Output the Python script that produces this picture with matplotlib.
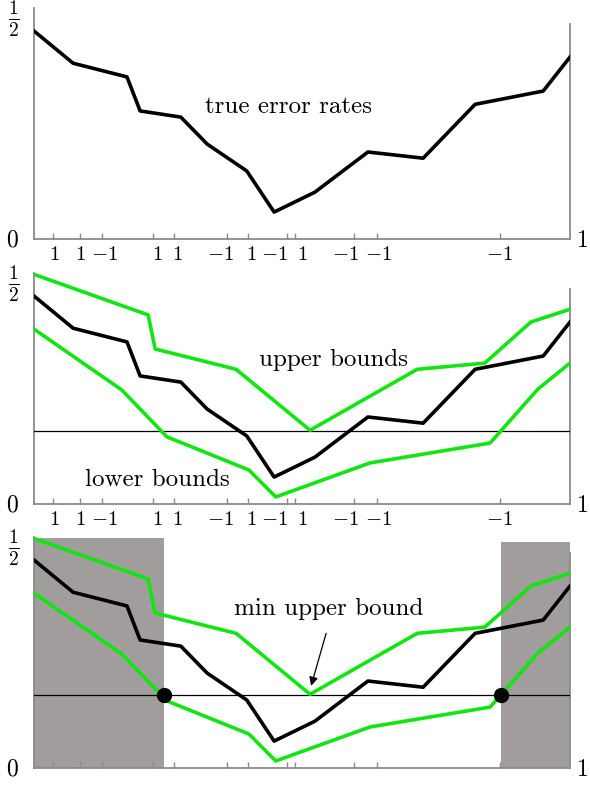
import matplotlib
matplotlib.use("Agg")
import matplotlib.pyplot as plt

plt.rcParams["font.family"] = ["cmr10", "DejaVu Serif"]
plt.rcParams["mathtext.fontset"] = "cm"
plt.rcParams["axes.formatter.use_mathtext"] = True

# true error rates (black)
err_x = [0.0, 0.073, 0.1735, 0.198, 0.274, 0.323, 0.397, 0.448, 0.524, 0.623, 0.726, 0.823, 0.950, 1.0]
err_y = [0.471, 0.398, 0.367, 0.290, 0.276, 0.215, 0.154, 0.061, 0.106, 0.197, 0.183, 0.305, 0.335, 0.412]

# upper bounds (green)
up_x = [0.0, 0.213, 0.226, 0.377, 0.515, 0.715, 0.841, 0.927, 1.0]
up_y = [0.520, 0.428, 0.351, 0.305, 0.167, 0.305, 0.319, 0.412, 0.441]

# lower bounds (green)
lo_x = [0.0, 0.164, 0.248, 0.401, 0.451, 0.627, 0.851, 0.940, 1.0]
lo_y = [0.396, 0.258, 0.152, 0.077, 0.016, 0.093, 0.138, 0.260, 0.319]

threshold = 0.166
cut_left = 0.243
cut_right = 0.871

# tick marks and the labels under them (labels nudged apart where crowded)
tick_pos = [0.0354, 0.0858, 0.1269, 0.222, 0.261, 0.360, 0.399, 0.472, 0.487, 0.597, 0.640, 0.869]
label_pos = [0.0373, 0.0868, 0.1306, 0.2295, 0.2668, 0.347, 0.405, 0.449, 0.500, 0.582, 0.642, 0.869]
tick_lab = ["$1$", "$1$", "$-1$", "$1$", "$1$", "$-1$", "$1$", "$-1$", "$1$", "$-1$", "$-1$", "$-1$"]

green = "#11e611"
spine_col = "#8a8a8a"

fig = plt.figure(figsize=(5.9, 7.87), dpi=100)
bottoms = [0.6963, 0.3596, 0.0241]
axes = [fig.add_axes([0.0576, b, 0.9085, 0.2935]) for b in bottoms]

for i, ax in enumerate(axes):
    ax.set_xlim(0, 1)
    ax.set_ylim(0, 0.523)
    ax.spines["top"].set_visible(False)
    for s in ["left", "bottom", "right"]:
        ax.spines[s].set_color(spine_col)
        ax.spines[s].set_linewidth(1.3)
    ax.spines["right"].set_bounds(0, 0.486)
    ax.set_yticks([])
    ax.set_xticks(tick_pos)
    ax.set_xticklabels([])
    ax.tick_params(axis="x", direction="in", length=4, width=1, color=spine_col)
    if i < 2:
        for xp, lab in zip(label_pos, tick_lab):
            ax.text(xp, -0.037, lab, fontsize=15, ha="center", va="center", clip_on=False)
    ax.text(-0.041, -0.004, "0", fontsize=17, ha="center", va="center", clip_on=False)
    ax.text(1.024, -0.004, "1", fontsize=17, ha="center", va="center", clip_on=False)
    ax.text(-0.037, 0.498, r"$\frac{1}{2}$", fontsize=20, ha="center", va="center", clip_on=False)

    ax.plot(err_x, err_y, color="black", lw=2.6, zorder=4)
    if i > 0:
        ax.axhline(threshold, color="black", lw=0.9, zorder=3)
        ax.plot(up_x, up_y, color=green, lw=2.6, zorder=4)
        ax.plot(lo_x, lo_y, color=green, lw=2.6, zorder=4)

axes[0].text(0.474, 0.299, "true error rates", fontsize=18, ha="center", va="center")
axes[1].text(0.558, 0.326, "upper bounds", fontsize=18, ha="center", va="center")
axes[1].text(0.230, 0.054, "lower bounds", fontsize=18, ha="center", va="center")

ax = axes[2]
ax.axvspan(0, cut_left, ymin=0, ymax=0.520 / 0.523, color="#a09d9c", zorder=1, lw=0)
ax.axvspan(cut_right, 1, ymin=0, ymax=0.511 / 0.523, color="#a09d9c", zorder=1, lw=0)
ax.plot([cut_left, cut_right], [threshold, threshold], "o", color="black", ms=10, zorder=6)
ax.text(0.550, 0.360, "min upper bound", fontsize=18, ha="center", va="center")
ax.annotate("", xy=(0.517, 0.186), xytext=(0.545, 0.305),
            arrowprops=dict(arrowstyle="-|>", color="black", lw=0.9,
                            shrinkA=0, shrinkB=0, mutation_scale=13))

fig.savefig("out.png", dpi=100)
